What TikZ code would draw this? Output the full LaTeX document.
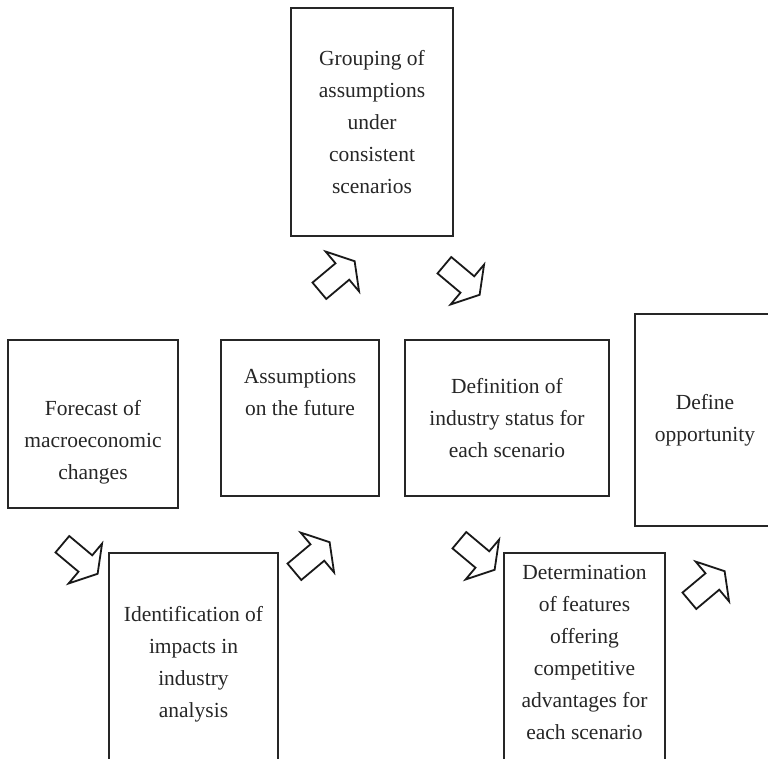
\documentclass[tikz,border=0pt]{standalone}
\usepackage{fontspec}
\setmainfont{Liberation Serif}
\begin{document}
\begin{tikzpicture}[x=1pt,y=-1pt,
  box/.style={draw=black!85,line width=2pt,rectangle,inner sep=0pt,anchor=north west},
  txt/.style={align=center,font=\fontsize{21.5}{32}\selectfont,text=black!85,inner sep=0pt},
  blockarrow/.pic={\draw[black!90,line width=1.8pt,line join=miter]
    (-23,-10.7) -- (7,-10.7) -- (7,-26) -- (23,0) -- (7,26) -- (7,10.7) -- (-23,10.7) -- cycle;}]
\useasboundingbox (0,0) rectangle (768,759);
% boxes
\node[box,minimum width=162pt,minimum height=228pt] (gr) at (290,7) {};
\node[box,minimum width=170pt,minimum height=168pt] (fc) at (7,339) {};
\node[box,minimum width=158pt,minimum height=156pt] (as) at (220,339) {};
\node[box,minimum width=204pt,minimum height=156pt] (de) at (404,339) {};
\node[box,minimum width=140pt,minimum height=212pt] (op) at (634,313) {};
\node[box,minimum width=169pt,minimum height=207pt] (id) at (108,552) {};
\node[box,minimum width=161pt,minimum height=207pt] (dt) at (503,552) {};
% texts
\node[txt] (grt) at (gr.center) {Grouping of\\assumptions\\under\\consistent\\scenarios};
\node[txt] (fct) at ([yshift=-18pt]fc.center) {Forecast of\\macroeconomic\\changes};
\node[txt,anchor=north] (ast) at ([yshift=-30pt]as.north) {Assumptions\\on the future};
\node[txt] (det) at (de.center) {Definition of\\industry status for\\each scenario};
\node[txt] (opt) at (op.center) {Define\\opportunity};
\node[txt] (idt) at ([yshift=-8pt]id.center) {Identification of\\impacts in\\industry\\analysis};
\node[txt] (dtt) at ([yshift=4pt]dt.center) {Determination\\of features\\offering\\competitive\\advantages for\\each scenario};
% block arrows between the steps
\coordinate (a1) at (80,559);
\coordinate (a2) at (312,557);
\coordinate (a3) at (337,276);
\coordinate (a4) at (462,280);
\coordinate (a5) at (477,555);
\coordinate (a6) at (707,586);
\pic[rotate=-40] at (a1) {blockarrow};
\pic[rotate=40] at (a2) {blockarrow};
\pic[rotate=40] at (a3) {blockarrow};
\pic[rotate=-40] at (a4) {blockarrow};
\pic[rotate=-40] at (a5) {blockarrow};
\pic[rotate=40] at (a6) {blockarrow};
\end{tikzpicture}
\end{document}
